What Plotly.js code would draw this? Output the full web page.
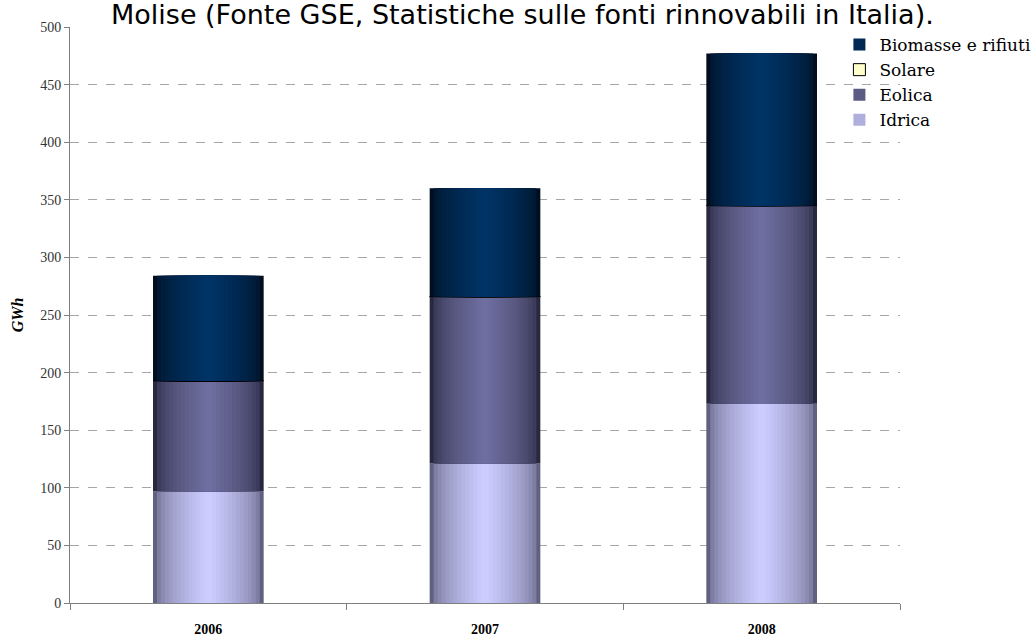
<!DOCTYPE html>
<html><head><meta charset="utf-8">
<script src="https://cdn.plot.ly/plotly-3.0.1.min.js"></script>
<style>body{margin:0;background:#fff}#c{width:1036px;height:637px}</style>
</head><body><div id="c"></div>
<script>
const years = ['2006', '2007', '2008'];
const idrica = [97, 121, 173];
const eolica = [96, 145, 172];
const solare = [0, 0, 0];
const biomasse = [91, 94, 132];

const series = [
  {name: 'Idrica', vals: idrica, edge: [96, 96, 128], mid: [204, 204, 255], rank: 4},
  {name: 'Eolica', vals: eolica, edge: [40, 40, 64], mid: [110, 110, 160], rank: 3},
  {name: 'Solare', vals: solare, edge: [255, 255, 204], mid: [255, 255, 204], rank: 2},
  {name: 'Biomasse e rifiuti', vals: biomasse, edge: [0, 14, 32], mid: [0, 51, 102], rank: 1}
];

const fullW = 0.4, steps = 14;
const traces = [];
let base = [0, 0, 0];
series.forEach(s => {
  const b = base.slice();
  for (let k = 0; k < steps; k++) {
    const t = k / (steps - 1);
    const c = s.edge.map((e, i) => Math.round(e + (s.mid[i] - e) * Math.sqrt(t)));
    traces.push({
      type: 'bar', x: years, y: s.vals, base: b,
      width: fullW * (1 - k / steps),
      name: s.name, legendgroup: s.name, legendrank: s.rank,
      showlegend: k === Math.floor(steps / 2),
      marker: {color: 'rgb(' + c.join(',') + ')', line: {width: 0}},
      hoverinfo: 'skip'
    });
  }
  base = base.map((v, i) => v + s.vals[i]);
});
traces.forEach(t => { if (t.name === 'Solare') t.marker.line = {width: 1, color: '#000'}; });

const layout = {
  width: 1036, height: 637,
  margin: {l: 70, r: 136, t: 27, b: 34, autoexpand: false},
  barmode: 'overlay',
  paper_bgcolor: '#fff', plot_bgcolor: '#fff',
  font: {family: '"Liberation Serif", serif', color: '#000'},
  xaxis: {
    type: 'category', range: [-0.5, 2.5],
    tickson: 'boundaries', ticks: 'outside', ticklen: 6, tickcolor: '#808080',
    showline: true, linecolor: '#808080', linewidth: 1,
    showgrid: false, ticklabelstandoff: 13,
    tickfont: {family: '"Liberation Serif", serif', size: 14, weight: 'bold', color: '#000'}
  },
  yaxis: {
    range: [0, 500], dtick: 50, tick0: 0,
    ticks: 'outside', ticklen: 5, tickcolor: '#808080',
    showline: true, linecolor: '#808080', linewidth: 1,
    showgrid: true, gridcolor: '#a6a6a6', griddash: 'dash', gridwidth: 1,
    zeroline: false,
    tickfont: {family: '"Liberation Serif", serif', size: 14, color: '#333'},
    title: {text: '<b><i>GWh</i></b>', standoff: 12, font: {family: '"Liberation Serif", serif', size: 16, color: '#000'}}
  },
  legend: {
    x: 0.927, xanchor: 'left', y: 1.0, yanchor: 'top',
    font: {family: '"DejaVu Serif", serif', size: 17, color: '#000'},
    bgcolor: 'rgba(0,0,0,0)', itemwidth: 30, tracegroupgap: 7, traceorder: 'normal'
  },
  annotations: [{
    text: 'Molise (Fonte GSE, Statistiche sulle fonti rinnovabili in Italia).',
    xref: 'paper', yref: 'paper', x: 0.545, y: 0.991, xanchor: 'center', yanchor: 'bottom',
    showarrow: false, font: {family: '"DejaVu Sans", sans-serif', size: 27, color: '#000'}
  }]
};
Plotly.newPlot('c', traces, layout, {displayModeBar: false, staticPlot: true});
</script></body></html>
